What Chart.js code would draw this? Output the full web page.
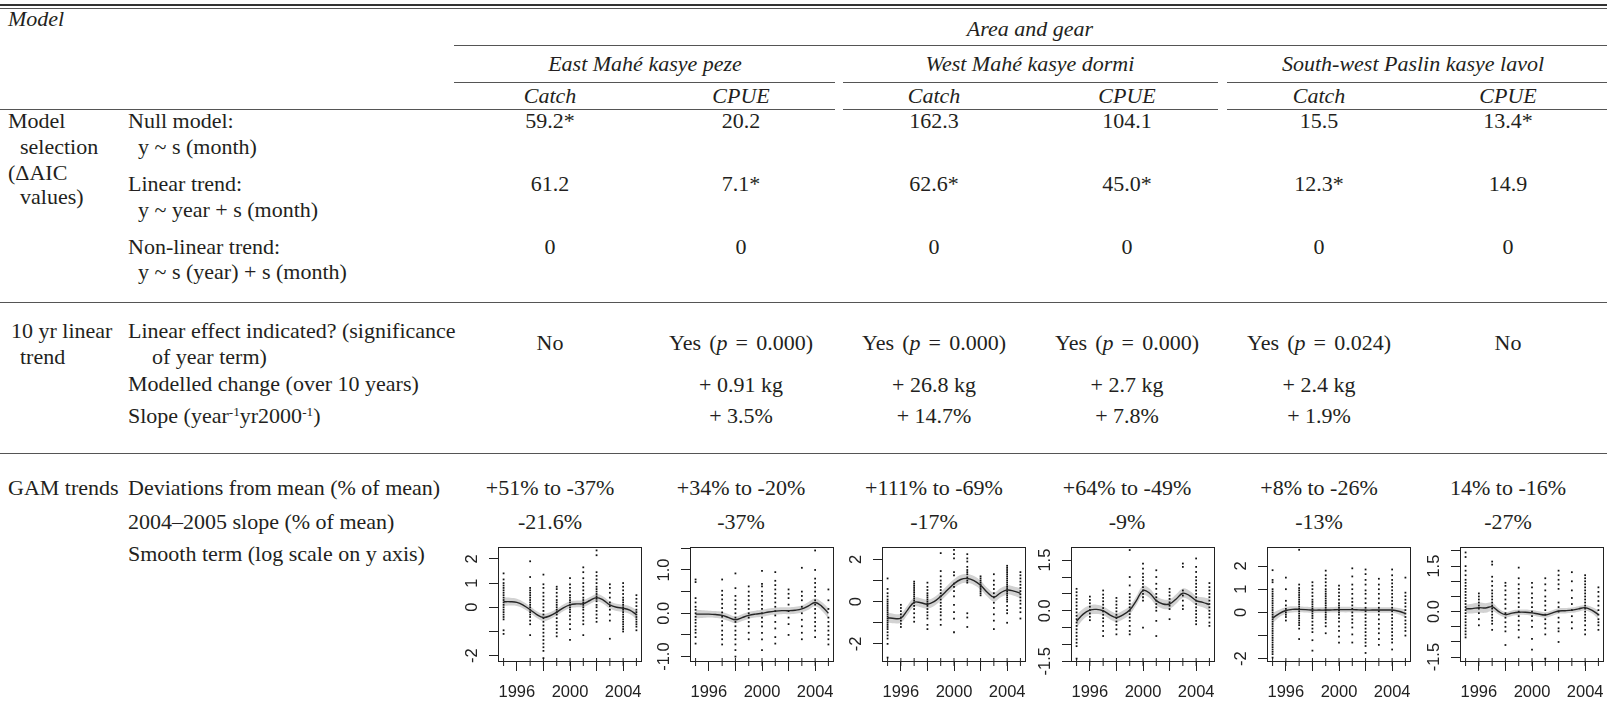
<!DOCTYPE html>
<html lang="en">
<head>
<meta charset="UTF-8">
<title>Catch and CPUE trend models</title>
<script src="https://cdn.jsdelivr.net/npm/chart.js"></script>
<style>
  body { margin: 0; background: #fff; }
  #page { position: relative; width: 1607px; height: 712px; overflow: hidden;
          font-family: "Liberation Serif", "Times New Roman", serif; font-size: 22px; color: #231f20; }
  .t { position: absolute; white-space: nowrap; line-height: 1; transform: translateY(-50%); }
  .c { transform: translate(-50%, -50%); }
  .i { font-style: italic; }
  .rule { position: absolute; height: 0; border-top: 1px solid #555; }
  .pane { position: absolute; top: 535px; height: 177px; }
  sup { font-size: 0.6em; vertical-align: 0.55em; }
  .eq { word-spacing: 0.12em; }
</style>
</head>
<body>
<div id="page">
  <div class="rule" style="left:0;width:1607px;top:4px;border-top-width:2px;border-color:#333"></div>
  <div class="rule" style="left:0;width:1607px;top:8px"></div>

  <div class="t i" style="left:8px;top:19px">Model</div>
  <div class="t i c" style="left:1030px;top:29px">Area and gear</div>
  <div class="rule" style="left:454px;width:1153px;top:45px"></div>
  <div class="rule" style="left:454px;width:381px;top:82px"></div>
  <div class="rule" style="left:843px;width:375px;top:82px"></div>
  <div class="rule" style="left:1227px;width:380px;top:82px"></div>
  <div class="rule" style="left:0;width:835px;top:109px"></div>
  <div class="rule" style="left:843px;width:375px;top:109px"></div>
  <div class="rule" style="left:1227px;width:380px;top:109px"></div>

  <div class="t" style="left:8px;top:121px">Model</div>
  <div class="t" style="left:20px;top:147px">selection</div>
  <div class="t" style="left:8px;top:173px">(ΔAIC</div>
  <div class="t" style="left:20px;top:197px">values)</div>
  <div class="t" style="left:128px;top:121px">Null model:</div>
  <div class="t" style="left:138px;top:147px">y ~ s (month)</div>
  <div class="t" style="left:128px;top:184px">Linear trend:</div>
  <div class="t" style="left:138px;top:210px">y ~ year + s (month)</div>
  <div class="t" style="left:128px;top:247px">Non-linear trend:</div>
  <div class="t" style="left:138px;top:272px">y ~ s (year) + s (month)</div>
  <div class="rule" style="left:0;width:1607px;top:302px"></div>

  <div class="t" style="left:11px;top:331px">10 yr linear</div>
  <div class="t" style="left:20px;top:357px">trend</div>
  <div class="t" style="left:128px;top:331px">Linear effect indicated? (significance</div>
  <div class="t" style="left:152px;top:357px">of year term)</div>
  <div class="t" style="left:128px;top:384px">Modelled change (over 10 years)</div>
  <div class="t" style="left:128px;top:416px">Slope (year<sup>-1</sup>yr2000<sup>-1</sup>)</div>
  <div class="rule" style="left:0;width:1607px;top:453px"></div>

  <div class="t" style="left:8px;top:488px">GAM trends</div>
  <div class="t" style="left:128px;top:488px">Deviations from mean (% of mean)</div>
  <div class="t" style="left:128px;top:522px">2004–2005 slope (% of mean)</div>
  <div class="t" style="left:128px;top:554px">Smooth term (log scale on y axis)</div>
</div>

<script>
  // table text
  const areas = ['East Mahé kasye peze', 'West Mahé kasye dormi', 'South-west Paslin kasye lavol'];
  const measures = ['Catch', 'CPUE', 'Catch', 'CPUE', 'Catch', 'CPUE'];
  const aicNull = ['59.2*', '20.2', '162.3', '104.1', '15.5', '13.4*'];
  const aicLinear = ['61.2', '7.1*', '62.6*', '45.0*', '12.3*', '14.9'];
  const aicNonLinear = ['0', '0', '0', '0', '0', '0'];
  const linearEffect = ['No', 'Yes (<i>p</i> = 0.000)', 'Yes (<i>p</i> = 0.000)', 'Yes (<i>p</i> = 0.000)', 'Yes (<i>p</i> = 0.024)', 'No'];
  const modelledChange = ['', '+ 0.91 kg', '+ 26.8 kg', '+ 2.7 kg', '+ 2.4 kg', ''];
  const slopePct = ['', '+ 3.5%', '+ 14.7%', '+ 7.8%', '+ 1.9%', ''];
  const deviations = ['+51% to -37%', '+34% to -20%', '+111% to -69%', '+64% to -49%', '+8% to -26%', '14% to -16%'];
  const slope0405 = ['-21.6%', '-37%', '-17%', '-9%', '-13%', '-27%'];

  // smooth-term panels
  const fitYears = [1995, 1995.5, 1996, 1996.5, 1997, 1997.5, 1998, 1998.5, 1999, 1999.5, 2000,
                    2000.5, 2001, 2001.5, 2002, 2002.5, 2003, 2003.5, 2004, 2004.5, 2005];
  const xTickYears = [1996, 1998, 2000, 2002, 2004];
  const xLabelYears = [1996, 2000, 2004];

  // East Mahé catch
  const eastCatchYears = [1995, 1997, 1998, 1999, 2000, 2001, 2002, 2003, 2004, 2005];
  const eastCatchPts = [
    [1.4, 1.15, 1.0, 0.9, 0.8, 0.7, 0.6, 0.5, 0.4, 0.3, 0.2, 0.1, 0.0, -0.1, -0.2, -0.3, -0.4, -0.5, -0.95, -1.1],
    [1.9, 1.25, 0.8, 0.7, 0.6, 0.5, 0.4, 0.3, 0.2, 0.1, 0.0, -0.1, -0.2, -0.3, -0.4, -0.55, -0.7, -1.15],
    [1.35, 0.95, 0.8, 0.6, 0.45, 0.3, 0.15, 0.0, -0.15, -0.3, -0.45, -0.6, -0.75, -0.9, -1.05, -1.2, -1.35, -1.5, -1.65, -1.8, -2.1],
    [0.85, 0.75, 0.6, 0.45, 0.3, 0.2, 0.1, 0.0, -0.1, -0.2, -0.3, -0.45, -0.6, -0.75, -0.9, -1.05, -1.2],
    [1.2, 0.95, 0.8, 0.65, 0.5, 0.4, 0.3, 0.2, 0.1, 0.0, -0.1, -0.2, -0.35, -0.5, -0.7, -0.9, -1.35],
    [1.65, 1.45, 1.2, 1.0, 0.85, 0.7, 0.55, 0.4, 0.3, 0.2, 0.1, 0.0, -0.1, -0.25, -0.4, -0.55, -0.7, -1.15],
    [2.35, 2.15, 1.45, 1.3, 1.15, 1.0, 0.85, 0.75, 0.65, 0.55, 0.45, 0.35, 0.25, 0.1, 0.0, -0.15, -0.3, -0.45, -0.6],
    [0.95, 0.8, 0.6, 0.4, 0.2, 0.05, -0.1, -0.3, -0.55, -1.3],
    [1.0, 0.85, 0.7, 0.55, 0.4, 0.3, 0.2, 0.1, 0.0, -0.1, -0.2, -0.3, -0.4, -0.5, -0.6, -0.7, -0.8, -0.9, -1.0],
    [0.5, 0.35, 0.2, 0.05, -0.1, -0.2, -0.3, -0.4, -0.5, -0.6, -0.7, -0.8, -0.95]
  ];
  const eastCatchFit = [0.23, 0.23, 0.2, 0.08, -0.1, -0.3, -0.42, -0.35, -0.2, -0.02, 0.1,
                        0.14, 0.15, 0.28, 0.4, 0.3, 0.1, 0.0, -0.04, -0.12, -0.3];
  const eastCatchSe = [0.18, 0.16, 0.15, 0.14, 0.14, 0.14, 0.15, 0.14, 0.14, 0.14, 0.14,
                       0.14, 0.14, 0.14, 0.15, 0.15, 0.15, 0.15, 0.15, 0.16, 0.19];

  // East Mahé CPUE
  const eastCpueYears = [1995, 1997, 1998, 1999, 2000, 2001, 2002, 2003, 2004, 2005];
  const eastCpuePts = [
    [0.78, 0.72, 0.35, 0.25, 0.15, 0.08, 0.0, -0.08, -0.15, -0.22, -0.3, -0.38, -0.45, -0.55, -0.7],
    [0.78, 0.52, 0.42, 0.32, 0.22, 0.12, 0.02, -0.08, -0.18, -0.28, -0.4, -0.5, -0.6, -0.72],
    [0.92, 0.58, 0.4, 0.3, 0.2, 0.1, 0.0, -0.1, -0.2, -0.3, -0.4, -0.5, -0.6, -0.72, -0.85, -1.0],
    [0.62, 0.5, 0.4, 0.3, 0.2, 0.1, 0.0, -0.1, -0.2, -0.3, -0.45, -0.6],
    [0.98, 0.68, 0.62, 0.5, 0.4, 0.3, 0.2, 0.1, 0.0, -0.1, -0.2, -0.3, -0.45, -0.6, -0.85],
    [0.95, 0.75, 0.65, 0.55, 0.45, 0.35, 0.25, 0.15, 0.05, -0.05, -0.2, -0.35, -0.55, -0.7],
    [0.55, 0.45, 0.35, 0.2, 0.05, -0.1, -0.25, -0.5],
    [1.05, 0.5, 0.4, 0.3, 0.15, 0.0, -0.15, -0.3, -0.45, -0.6],
    [1.45, 1.0, 0.8, 0.7, 0.6, 0.5, 0.4, 0.3, 0.2, 0.1, 0.0, -0.1, -0.2, -0.3, -0.4, -0.55],
    [0.55, 0.3, 0.1, -0.1, -0.2, -0.3, -0.4, -0.5, -0.6, -0.72]
  ];
  const eastCpueFit = [-0.02, -0.02, -0.02, -0.03, -0.05, -0.1, -0.15, -0.1, -0.05, -0.02, 0.0,
                       0.03, 0.05, 0.06, 0.06, 0.07, 0.1, 0.17, 0.25, 0.16, 0.0];
  const eastCpueSe = [0.1, 0.09, 0.08, 0.08, 0.08, 0.08, 0.08, 0.08, 0.08, 0.08, 0.08,
                      0.08, 0.08, 0.08, 0.08, 0.08, 0.08, 0.09, 0.09, 0.1, 0.12];

  // West Mahé catch
  const westCatchYears = [1995, 1996, 1997, 1998, 1999, 2000, 2001, 2002, 2003, 2004, 2005];
  const westCatchPts = [
    [1.1, 0.6, 0.4, 0.25, 0.1, 0.0, -0.1, -0.2, -0.3, -0.4, -0.5, -0.6, -0.7, -0.8, -0.9, -1.0, -1.1, -1.2, -1.3, -1.45, -1.6, -1.75, -2.0, -2.65],
    [-0.15, -0.3, -0.45, -0.6, -0.75, -0.9, -1.05, -1.2],
    [0.95, 0.85, 0.75, 0.65, 0.55, 0.45, 0.35, 0.25, 0.15, 0.05, -0.05, -0.2, -0.35, -0.55, -0.75, -0.95],
    [0.9, 0.7, 0.55, 0.4, 0.3, 0.2, 0.1, 0.0, -0.1, -0.2, -0.35, -0.5, -0.65, -0.8, -1.1, -1.3],
    [2.3, 1.45, 1.2, 1.0, 0.85, 0.7, 0.55, 0.4, 0.25, 0.1, -0.05, -0.2, -0.35, -0.5, -0.65, -0.85, -1.1],
    [2.45, 2.25, 2.05, 1.4, 1.25, 0.85, 0.7, 0.5, 0.25, -0.15, -0.5, -0.8, -1.45],
    [2.25, 2.05, 1.9, 1.65, 1.5, 1.4, 1.3, 1.15, 1.0, 0.9, -0.55, -0.75, -1.2],
    [1.2, 1.1, 1.0, 0.9, 0.8, 0.7, 0.6, 0.5, 0.4, 0.3],
    [1.3, 1.0, 0.8, 0.6, 0.4, 0.2, -0.05, -0.3, -0.6, -0.9, -1.3],
    [1.7, 1.6, 1.5, 1.4, 1.3, 1.2, 1.1, 1.0, 0.9, 0.8, 0.7, 0.6, 0.5, 0.4, 0.3, 0.2, 0.1, 0.0, -0.2, -0.4, -0.55, -1.0],
    [1.4, 1.25, 1.1, 0.95, 0.8, 0.65, 0.5, 0.35, 0.2, 0.05, -0.1, -0.3, -0.5, -0.8]
  ];
  const westCatchFit = [-0.76, -0.8, -0.78, -0.4, -0.03, -0.05, -0.12, 0.0, 0.25, 0.55, 0.85,
                        1.05, 1.1, 1.0, 0.78, 0.45, 0.22, 0.42, 0.55, 0.5, 0.4];
  const westCatchSe = [0.24, 0.22, 0.22, 0.22, 0.21, 0.21, 0.21, 0.21, 0.21, 0.21, 0.21,
                       0.21, 0.21, 0.21, 0.21, 0.21, 0.22, 0.22, 0.22, 0.22, 0.24];

  // West Mahé CPUE
  const westCpueYears = [1995, 1996, 1997, 1998, 1999, 2000, 2001, 2002, 2003, 2004, 2005];
  const westCpuePts = [
    [0.65, 0.55, 0.45, 0.35, 0.25, 0.15, 0.05, -0.05, -0.15, -0.25, -0.35, -0.45, -0.55, -0.65, -0.75, -0.85, -0.95, -1.05, -1.42],
    [0.42, 0.32, 0.22, 0.12, 0.02, -0.08, -0.18, -0.28],
    [0.6, 0.48, 0.38, 0.28, 0.18, 0.08, -0.02, -0.12, -0.22, -0.32, -0.45, -0.6, -0.75],
    [0.38, 0.28, 0.18, 0.08, -0.02, -0.12, -0.22, -0.32, -0.42, -0.55, -0.7],
    [1.8, 1.0, 0.75, 0.5, 0.4, 0.3, 0.2, 0.1, 0.0, -0.1, -0.2, -0.3, -0.45, -0.6, -0.7],
    [1.4, 1.25, 1.1, 1.0, 0.9, 0.8, 0.7, 0.6, 0.5, 0.4, 0.3, -0.5],
    [1.2, 1.0, 0.8, 0.65, 0.5, 0.4, 0.3, 0.2, 0.1, 0.0, -0.3, -0.75],
    [0.65, 0.55, 0.45, 0.35, 0.25, 0.15, 0.05, -0.25],
    [1.4, 1.3, 0.6, 0.45, 0.3, 0.15, 0.05],
    [1.55, 1.3, 1.15, 1.0, 0.9, 0.8, 0.7, 0.6, 0.5, 0.4, 0.3, 0.2, 0.1, 0.0, -0.1, -0.2, -0.3, -0.4],
    [0.82, 0.7, 0.6, 0.5, 0.4, 0.3, 0.2, 0.1, 0.0, -0.1, -0.2, -0.35, -0.45]
  ];
  const westCpueFit = [-0.31, -0.1, 0.02, 0.04, 0.0, -0.12, -0.2, -0.12, 0.02, 0.3, 0.6,
                       0.52, 0.3, 0.2, 0.2, 0.35, 0.52, 0.45, 0.3, 0.25, 0.18];
  const westCpueSe = [0.2, 0.16, 0.14, 0.14, 0.13, 0.13, 0.13, 0.13, 0.13, 0.13, 0.14,
                      0.14, 0.14, 0.14, 0.14, 0.14, 0.14, 0.14, 0.14, 0.15, 0.18];

  // South-west Praslin catch
  const swCatchYears = [1995, 1996, 1997, 1998, 1999, 2000, 2001, 2002, 2003, 2004, 2005];
  const swCatchPts = [
    [1.82, 1.4, 1.3, 1.0, 0.9, 0.8, 0.7, 0.6, 0.5, 0.4, 0.3, 0.2, 0.1, 0.0, -0.1, -0.2, -0.3, -0.4, -0.5, -0.6, -0.7, -0.8, -0.9, -1.0, -1.1, -1.2, -1.3, -1.4, -1.5, -1.6, -1.7, -1.8, -1.95],
    [1.5, 1.0, 0.5, 0.3, 0.15, 0.0, -0.1, -0.2, -0.35],
    [2.7, 1.2, 1.05, 0.95, 0.85, 0.75, 0.65, 0.55, 0.45, 0.35, 0.25, 0.15, 0.05, -0.05, -0.15, -0.25, -0.35, -0.45, -0.55, -0.7, -1.15],
    [1.3, 1.15, 1.0, 0.85, 0.7, 0.55, 0.45, 0.35, 0.25, 0.15, 0.05, -0.05, -0.15, -0.25, -0.4, -0.55, -0.7, -0.85, -1.2, -1.65],
    [1.8, 1.6, 1.45, 1.3, 1.15, 1.0, 0.9, 0.8, 0.7, 0.6, 0.5, 0.4, 0.3, 0.2, 0.1, 0.0, -0.1, -0.2, -0.3, -0.45, -0.6, -0.9],
    [1.15, 1.0, 0.85, 0.7, 0.55, 0.4, 0.3, 0.2, 0.1, 0.0, -0.1, -0.25, -0.4, -0.6, -0.8, -1.05, -1.3],
    [1.9, 1.55, 1.2, 1.0, 0.8, 0.6, 0.45, 0.3, 0.15, 0.0, -0.15, -0.3, -0.45, -0.65, -0.95, -1.3],
    [1.85, 1.65, 1.4, 1.2, 0.95, 0.8, 0.6, 0.4, 0.2, 0.05, -0.1, -0.25, -0.4, -0.55, -0.7, -0.85, -1.0, -1.15, -1.3, -1.45, -1.75],
    [1.45, 1.2, 1.0, 0.8, 0.6, 0.4, 0.2, 0.05, -0.1, -0.3, -0.5, -0.7, -0.9, -1.15, -1.4],
    [1.85, 1.6, 1.4, 1.25, 1.1, 0.95, 0.8, 0.65, 0.5, 0.35, 0.2, 0.05, -0.1, -0.25, -0.4, -0.55, -0.7, -0.85, -1.0, -1.15, -1.3, -1.6],
    [1.5, 0.85, 0.7, 0.55, 0.4, 0.25, 0.1, -0.05, -0.2, -0.35, -0.5, -0.65, -0.8, -1.0]
  ];
  const swCatchFit = [-0.25, -0.05, 0.08, 0.13, 0.13, 0.12, 0.1, 0.1, 0.1, 0.11, 0.12,
                      0.12, 0.12, 0.11, 0.1, 0.1, 0.1, 0.1, 0.1, 0.05, -0.05];
  const swCatchSe = [0.22, 0.16, 0.14, 0.13, 0.12, 0.12, 0.12, 0.12, 0.12, 0.12, 0.12,
                     0.12, 0.12, 0.12, 0.12, 0.12, 0.12, 0.12, 0.12, 0.14, 0.18];

  // South-west Praslin CPUE
  const swCpueYears = [1995, 1996, 1997, 1998, 1999, 2000, 2001, 2002, 2003, 2004, 2005];
  const swCpuePts = [
    [1.95, 1.8, 1.5, 1.35, 1.2, 1.05, 0.95, 0.85, 0.75, 0.65, 0.55, 0.45, 0.35, 0.25, 0.15, 0.05, -0.05, -0.15, -0.25, -0.35, -0.45, -0.55, -0.65, -0.75, -0.85],
    [0.6, 0.5, 0.4, 0.3, 0.2, 0.1, -0.05, -0.25, -0.45],
    [1.65, 1.55, 1.15, 1.0, 0.85, 0.7, 0.6, 0.5, 0.4, 0.3, 0.2, 0.1, 0.0, -0.1, -0.2, -0.3, -0.4, -0.6],
    [0.95, 0.85, 0.7, 0.55, 0.4, 0.25, 0.1, -0.05, -0.2, -0.35, -0.5, -0.65, -1.1],
    [1.45, 1.1, 0.9, 0.75, 0.6, 0.45, 0.3, 0.15, 0.0, -0.15, -0.3, -0.45, -0.6, -0.85],
    [0.95, 0.8, 0.6, 0.45, 0.3, 0.15, 0.0, -0.15, -0.3, -0.5, -0.9, -1.25],
    [1.1, 0.9, 0.7, 0.5, 0.35, 0.2, 0.05, -0.1, -0.25, -0.4, -0.55, -0.75, -1.55],
    [1.35, 1.2, 1.05, 0.9, 0.75, 0.3, 0.15, 0.0, -0.2, -0.35, -0.55, -0.65, -1.0],
    [1.3, 1.0, 0.7, 0.45, 0.25, 0.05, -0.15, -0.35, -0.55],
    [1.2, 1.1, 1.0, 0.9, 0.8, 0.7, 0.6, 0.5, 0.4, 0.3, 0.2, 0.1, 0.0, -0.1, -0.2, -0.3, -0.45, -0.6, -0.75],
    [0.8, 0.65, 0.5, 0.35, 0.2, 0.05, -0.1, -0.25, -0.35, -0.45, -0.6]
  ];
  const swCpueFit = [0.09, 0.1, 0.13, 0.12, 0.16, 0.0, -0.1, -0.05, -0.02, -0.02, -0.04,
                     -0.08, -0.11, -0.05, 0.02, 0.03, 0.05, 0.09, 0.13, 0.05, -0.1];
  const swCpueSe = [0.14, 0.16, 0.17, 0.16, 0.14, 0.1, 0.09, 0.09, 0.09, 0.09, 0.09,
                    0.09, 0.09, 0.09, 0.09, 0.09, 0.09, 0.09, 0.09, 0.1, 0.14];

  const TICK_FONT = { family: '"Liberation Sans", Arial, sans-serif', size: 16.5 };
  const INK = '#222';
  const AXIS_W = 60, AXIS_H = 50, TICK_LEN = 9;
  const colX = [550, 741, 934, 1127, 1319, 1508];
  const areaX = [645, 1030, 1413];
  const boxLeft = [498, 690, 882, 1071, 1267, 1460];
  const boxW = 145;

  const panels = [
    { years: eastCatchYears, pts: eastCatchPts, fit: eastCatchFit, se: eastCatchSe,
      min: -2.26, max: 2.49, ticks: [-2, -1, 0, 1, 2], labels: [-2, 0, 1, 2], dec: 0 },
    { years: eastCpueYears, pts: eastCpuePts, fit: eastCpueFit, se: eastCpueSe,
      min: -1.125, max: 1.53, ticks: [-1, -0.5, 0, 0.5, 1, 1.5], labels: [-1, 0, 1], dec: 1 },
    { years: westCatchYears, pts: westCatchPts, fit: westCatchFit, se: westCatchSe,
      min: -2.86, max: 2.59, ticks: [-2, -1, 0, 1, 2], labels: [-2, 0, 2], dec: 0 },
    { years: westCpueYears, pts: westCpuePts, fit: westCpueFit, se: westCpueSe,
      min: -1.52, max: 1.89, ticks: [-1.5, -1, -0.5, 0, 0.5, 1, 1.5], labels: [-1.5, 0, 1.5], dec: 1 },
    { years: swCatchYears, pts: swCatchPts, fit: swCatchFit, se: swCatchSe,
      min: -2.14, max: 2.82, ticks: [-2, -1, 0, 1, 2], labels: [-2, 0, 1, 2], dec: 0 },
    { years: swCpueYears, pts: swCpuePts, fit: swCpueFit, se: swCpueSe,
      min: -1.66, max: 2.13, ticks: [-1.5, -1, -0.5, 0, 0.5, 1, 1.5, 2], labels: [-1.5, 0, 1.5], dec: 1 }
  ];

  const page = document.getElementById('page');
  function addText(html, x, y, cls) {
    const d = document.createElement('div');
    d.className = 't c ' + (cls || '');
    d.style.left = x + 'px';
    d.style.top = y + 'px';
    d.innerHTML = html;
    page.appendChild(d);
  }
  areas.forEach((a, i) => addText(a, areaX[i], 64, 'i'));
  const rows = [[measures, 96, 'i'], [aicNull, 121], [aicLinear, 184], [aicNonLinear, 247],
                [linearEffect, 343, 'eq'], [modelledChange, 385], [slopePct, 416],
                [deviations, 488], [slope0405, 522]];
  rows.forEach(([vals, y, cls]) => vals.forEach((v, i) => { if (v) addText(v, colX[i], y, cls); }));

  // frame round the plotting region, like R's box()
  const framePlugin = {
    id: 'frame',
    afterDatasetsDraw(chart) {
      const { ctx, chartArea: a } = chart;
      ctx.save();
      ctx.strokeStyle = INK;
      ctx.lineWidth = 1;
      ctx.strokeRect(Math.round(a.left) + 0.5, Math.round(a.top) + 0.5,
                     Math.round(a.right - a.left) - 1, Math.round(a.bottom - a.top) - 1);
      ctx.restore();
    }
  };

  function labelPad(p) {
    const c = document.createElement('canvas').getContext('2d');
    c.font = TICK_FONT.size + 'px ' + TICK_FONT.family;
    const w = Math.max(...p.labels.map(v => c.measureText(v.toFixed(p.dec)).width));
    return Math.max(0, 26 - TICK_LEN - w / 2);
  }

  panels.forEach((p, k) => {
    const box = document.createElement('div');
    box.className = 'pane';
    box.style.left = (boxLeft[k] - AXIS_W) + 'px';
    box.style.width = (boxW + AXIS_W + 4) + 'px';
    const cv = document.createElement('canvas');
    box.appendChild(cv);
    page.appendChild(box);

    const scatter = [];
    p.years.forEach((yr, j) => p.pts[j].forEach(v => scatter.push({ x: yr, y: v })));
    const line = arr => fitYears.map((x, i) => ({ x, y: arr(i) }));

    new Chart(cv, {
      type: 'scatter',
      data: {
        datasets: [
          { type: 'line', data: line(i => p.fit[i]), borderColor: '#262626', borderWidth: 1.4,
            pointRadius: 0, tension: 0.4, fill: false, order: 0 },
          { data: scatter, pointStyle: 'rect', pointRadius: 1.25, borderWidth: 0,
            backgroundColor: '#111', order: 1 },
          { data: p.years.map(x => ({ x, y: p.min })), pointStyle: 'line', rotation: 90,
            pointRadius: 4, borderColor: INK, borderWidth: 1, clip: false, order: 1 },
          { type: 'line', data: line(i => p.fit[i] + p.se[i]), borderWidth: 0, pointRadius: 0,
            tension: 0.4, fill: '+1', backgroundColor: '#d2d2d2', order: 3 },
          { type: 'line', data: line(i => p.fit[i] - p.se[i]), borderWidth: 0, pointRadius: 0,
            tension: 0.4, fill: false, order: 3 }
        ]
      },
      options: {
        responsive: true,
        maintainAspectRatio: false,
        animation: false,
        events: [],
        layout: { padding: { left: 0, right: 4, top: 12, bottom: 0 } },
        plugins: { legend: { display: false }, tooltip: { enabled: false } },
        scales: {
          x: {
            type: 'linear', min: 1994.58, max: 2005.42,
            afterBuildTicks: s => { s.ticks = xTickYears.map(v => ({ value: v })); },
            afterFit: s => { s.height = AXIS_H; s.paddingLeft = 0; s.paddingRight = 0; },
            grid: { drawOnChartArea: false, tickLength: TICK_LEN, color: INK, lineWidth: 1 },
            border: { display: false },
            ticks: { autoSkip: false, maxRotation: 0, padding: 12, color: INK, font: TICK_FONT,
                     callback: v => xLabelYears.includes(v) ? String(v) : '' }
          },
          y: {
            type: 'linear', min: p.min, max: p.max,
            afterBuildTicks: s => { s.ticks = p.ticks.map(v => ({ value: v })); },
            afterFit: s => { s.width = AXIS_W; s.paddingTop = 0; s.paddingBottom = 0; },
            grid: { drawOnChartArea: false, tickLength: TICK_LEN, color: INK, lineWidth: 1 },
            border: { display: false },
            ticks: { autoSkip: false, minRotation: 90, maxRotation: 90, crossAlign: 'center',
                     padding: labelPad(p), color: INK, font: TICK_FONT,
                     callback: v => p.labels.includes(v) ? v.toFixed(p.dec) : '' }
          }
        }
      },
      plugins: [framePlugin]
    });
  });
</script>
</body>
</html>
